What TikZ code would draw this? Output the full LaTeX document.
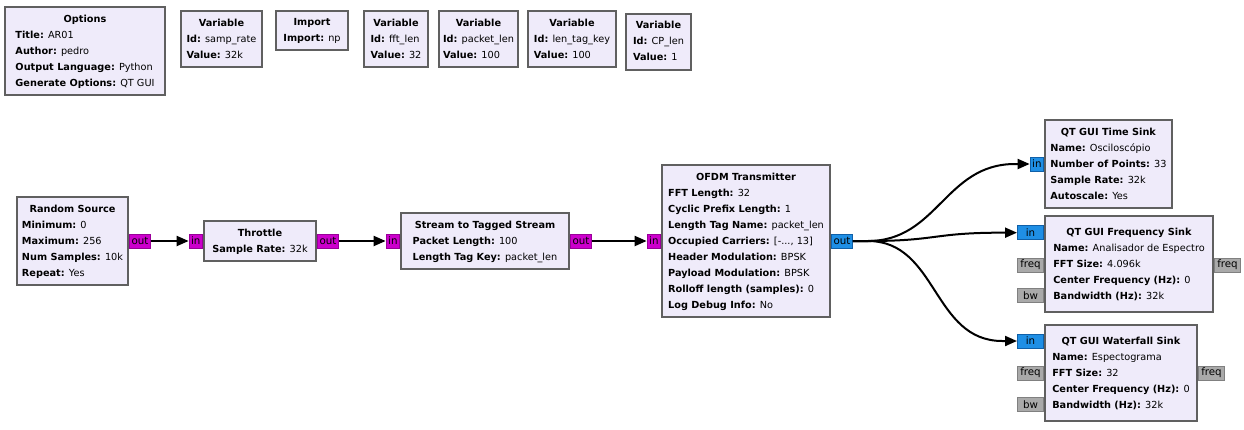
\documentclass[tikz,border=0pt]{standalone}
\usepackage{fontspec}
\setmainfont{DejaVu Sans}
\usetikzlibrary{arrows.meta,positioning}
\definecolor{blockfill}{HTML}{EFEBFA}
\definecolor{blockline}{HTML}{606060}
\definecolor{portmag}{HTML}{CC00CC}
\definecolor{portmagline}{HTML}{990099}
\definecolor{portblue}{HTML}{1F8FE5}
\definecolor{portblueline}{HTML}{1060A8}
\definecolor{portgray}{HTML}{A9A9A9}
\definecolor{portgrayline}{HTML}{808080}
\newcommand{\blk}[2]{\begin{tabular}{@{}l@{}}\multicolumn{1}{@{}c@{}}{\textbf{#1}}\\#2\end{tabular}}
\newcommand{\blkparam}[2]{\textbf{#1:} #2}
\tikzset{%
  block/.style = {draw=blockline, line width=1.5pt, fill=blockfill,%
                  inner sep=0pt, font=\fontsize{7.3}{12}\selectfont},%
  port/.style  = {draw, line width=0.75pt, inner xsep=1.5pt, inner ysep=0pt,%
                  minimum height=10.5pt, font=\fontsize{7.7}{9}\selectfont},%
  mport/.style = {port, fill=portmag, draw=portmagline},%
  bport/.style = {port, fill=portblue, draw=portblueline},%
  gport/.style = {port, fill=portgray, draw=portgrayline, minimum width=19.5pt},%
  conn/.style  = {line width=1.5pt, -{Triangle[length=9pt,width=7.5pt]}}%
}
\begin{document}
\begin{tikzpicture}[x=0.75pt,y=-0.75pt]%
	\path[use as bounding box, fill=white] (0,0) rectangle (1244,429);
	% variables and options
	\node[block, minimum width=120pt, minimum height=66pt] (opts) at (85,51)%
		{\blk{Options}{\blkparam{Title}{AR01}\\ \blkparam{Author}{pedro}\\%
		\blkparam{Output Language}{Python}\\ \blkparam{Generate Options}{QT GUI}}};%
	\node[block, minimum width=60.75pt, minimum height=42pt] (vsamp) at (221.5,39)%
		{\blk{Variable}{\blkparam{Id}{samp\_rate}\\ \blkparam{Value}{32k}}};%
	\node[block, minimum width=54pt, minimum height=29.25pt] (imp) at (312,30.5)%
		{\blk{Import}{\blkparam{Import}{np}}};%
	\node[block, minimum width=48pt, minimum height=42pt] (vfft) at (396,39)%
		{\blk{Variable}{\blkparam{Id}{fft\_len}\\ \blkparam{Value}{32}}};%
	\node[block, minimum width=59.25pt, minimum height=42pt] (vpkt) at (478.5,39)%
		{\blk{Variable}{\blkparam{Id}{packet\_len}\\ \blkparam{Value}{100}}};%
	\node[block, minimum width=66pt, minimum height=42pt] (vtag) at (572,39)%
		{\blk{Variable}{\blkparam{Id}{len\_tag\_key}\\ \blkparam{Value}{100}}};%
	\node[block, minimum width=48.75pt, minimum height=42pt] (vcp) at (658.5,41.5)%
		{\blk{Variable}{\blkparam{Id}{CP\_len}\\ \blkparam{Value}{1}}};%
	% flow graph
	\node[block, minimum width=83.25pt, minimum height=66pt] (rand) at (72.5,241)%
		{\blk{Random Source}{\blkparam{Minimum}{0}\\ \blkparam{Maximum}{256}\\%
		\blkparam{Num Samples}{10k}\\ \blkparam{Repeat}{Yes}}};%
	\node[block, minimum width=84pt, minimum height=30pt] (thr) at (260,241)%
		{\blk{Throttle}{\blkparam{Sample Rate}{32k}}};%
	\node[block, minimum width=126pt, minimum height=42pt] (s2ts) at (485,241)%
		{\blk{Stream to Tagged Stream}{\blkparam{Packet Length}{100}\\%
		\blkparam{Length Tag Key}{packet\_len}}};%
	\node[block, minimum width=126pt, minimum height=114pt] (ofdm) at (746,241)%
		{\blk{OFDM Transmitter}{\blkparam{FFT Length}{32}\\%
		\blkparam{Cyclic Prefix Length}{1}\\ \blkparam{Length Tag Name}{packet\_len}\\%
		\blkparam{Occupied Carriers}{[-..., 13]}\\ \blkparam{Header Modulation}{BPSK}\\%
		\blkparam{Payload Modulation}{BPSK}\\ \blkparam{Rolloff length (samples)}{0}\\%
		\blkparam{Log Debug Info}{No}}};%
	\node[block, minimum width=95.25pt, minimum height=66pt] (tsink) at (1108.5,164)%
		{\blk{QT GUI Time Sink}{\blkparam{Name}{Osciloscópio}\\%
		\blkparam{Number of Points}{33}\\ \blkparam{Sample Rate}{32k}\\%
		\blkparam{Autoscale}{Yes}}};%
	\node[block, minimum width=126pt, minimum height=72pt] (fsink) at (1129,264)%
		{\blk{QT GUI Frequency Sink}{\blkparam{Name}{Analisador de Espectro}\\%
		\blkparam{FFT Size}{4.096k}\\ \blkparam{Center Frequency (Hz)}{0}\\%
		\blkparam{Bandwidth (Hz)}{32k}}};%
	\node[block, minimum width=114pt, minimum height=72pt] (wsink) at (1121,373)%
		{\blk{QT GUI Waterfall Sink}{\blkparam{Name}{Espectograma}\\%
		\blkparam{FFT Size}{32}\\ \blkparam{Center Frequency (Hz)}{0}\\%
		\blkparam{Bandwidth (Hz)}{32k}}};%
	% ports
	\node[mport, right=0pt of rand] (rando) {out};%
	\node[mport, left=0pt of thr] (thri) {in};%
	\node[mport, right=0pt of thr] (thro) {out};%
	\node[mport, left=0pt of s2ts] (s2tsi) {in};%
	\node[mport, right=0pt of s2ts] (s2tso) {out};%
	\node[mport, left=0pt of ofdm] (ofdmi) {in};%
	\node[bport, right=0pt of ofdm] (ofdmo) {out};%
	\node[bport, left=0pt of tsink] (tin) {in};%
	\node[bport, minimum width=19.5pt, anchor=east] (fin) at ([yshift=23.5pt]fsink.west) {in};%
	\node[gport, anchor=east] (ffreq) at ([yshift=-0.75pt]fsink.west) {freq};%
	\node[gport, anchor=east] (fbw) at ([yshift=-23.5pt]fsink.west) {bw};%
	\node[gport, anchor=west] (ffreqo) at ([yshift=-0.75pt]fsink.east) {freq};%
	\node[bport, minimum width=19.5pt, anchor=east] (win) at ([yshift=24pt]wsink.west) {in};%
	\node[gport, anchor=east] (wfreq) at (wsink.west) {freq};%
	\node[gport, anchor=east] (wbw) at ([yshift=-23.5pt]wsink.west) {bw};%
	\node[gport, anchor=west] (wfreqo) at (wsink.east) {freq};%
	% connections
	\draw[conn] (rando) -- (thri);%
	\draw[conn] (thro) -- (s2tsi);%
	\draw[conn] (s2tso) -- (ofdmi);%
	\draw[conn] (ofdmo.east) -- ++(15,0) .. controls +(70,0) and +(-70,0) ..%
		([xshift=-11pt]tin.west) -- (tin.west);%
	\draw[conn] (ofdmo.east) -- ++(15,0) .. controls +(70,0) and +(-70,0) ..%
		([xshift=-11pt]fin.west) -- (fin.west);%
	\draw[conn] (ofdmo.east) -- ++(15,0) .. controls +(70,0) and +(-70,0) ..%
		([xshift=-11pt]win.west) -- (win.west);%
\end{tikzpicture}
\end{document}
